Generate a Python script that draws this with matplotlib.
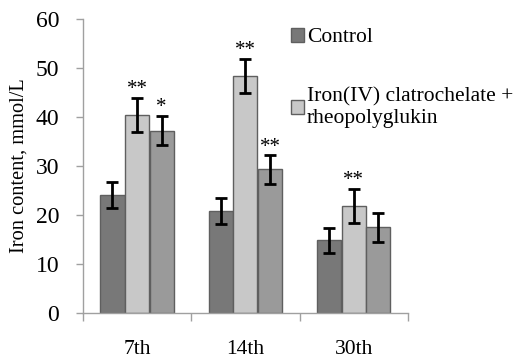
import matplotlib
matplotlib.use("Agg")
import matplotlib.pyplot as plt
import numpy as np

categories = ["7th", "14th", "30th"]
series_names = ["Control", "Iron(IV) clatrochelate +\nrheopolyglukin", None]
control = [24.1, 20.8, 14.8]
control_err = [2.6, 2.6, 2.6]
iron = [40.4, 48.4, 21.9]
iron_err = [3.5, 3.5, 3.5]
third = [37.2, 29.3, 17.5]
third_err = [3.0, 2.9, 3.0]
marks_iron = ["**", "**", "**"]
marks_third = ["*", "**", ""]
y_ticks = [0, 10, 20, 30, 40, 50, 60]

plt.rcParams['font.family'] = ['Liberation Serif', 'DejaVu Serif']

fig = plt.figure(figsize=(5.15, 3.58), dpi=100)
ax = fig.add_axes([0.161, 0.1257, 0.631, 0.8213])

x = np.arange(len(categories))
w = 0.222
step = 0.227
colors = ["#787878", "#c8c8c8", "#9a9a9a"]
edge = "#5f5f5f"
data = [(control, control_err, None), (iron, iron_err, marks_iron), (third, third_err, marks_third)]
handles = []
for k, (vals, errs, marks) in enumerate(data):
    pos = x + (k - 1) * step
    b = ax.bar(pos, vals, width=w, color=colors[k], edgecolor=edge, linewidth=1.0, zorder=2)
    ax.errorbar(pos, vals, yerr=errs, fmt='none', ecolor='black', elinewidth=2,
                capsize=4.5, capthick=2, zorder=3)
    handles.append(b)
    if marks:
        for p, v, e, m in zip(pos, vals, errs, marks):
            if m:
                ax.annotate(m, (p, v + e), xytext=(0, -1), textcoords='offset points',
                            ha='center', va='bottom', fontsize=15)

ax.set_xlim(-0.5, 2.5)
ax.set_ylim(0, 60)
ax.set_yticks(y_ticks)
ax.set_xticks([-0.5, 0.5, 1.5, 2.5])
ax.set_xticklabels([])
ax.tick_params(axis='x', length=6, color='#a0a0a0', width=1, direction='out')
ax.tick_params(axis='y', length=5, color='#a0a0a0', width=1, direction='out', labelsize=17, pad=12)
for i, c in enumerate(categories):
    ax.text(i, -5.6, c, ha='center', va='top', fontsize=15.5)
for s in ['top', 'right']:
    ax.spines[s].set_visible(False)
for s in ['left', 'bottom']:
    ax.spines[s].set_color('#a0a0a0')
    ax.spines[s].set_linewidth(1)
ax.set_ylabel("Iron content, mmol/L", fontsize=14.7, labelpad=5)

leg = fig.legend(handles[:2], series_names[:2], loc='upper left',
                 bbox_to_anchor=(0.565, 0.922), frameon=False, fontsize=15.5,
                 handlelength=0.6, handleheight=0.6, handletextpad=0.15,
                 labelspacing=1.84, borderaxespad=0, borderpad=0)

fig.savefig("out.png", dpi=100)
